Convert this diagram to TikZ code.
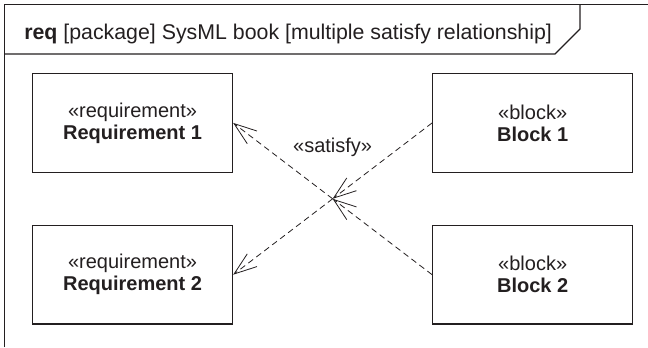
\documentclass[tikz,border=0pt]{standalone}
\usepackage{fontspec}
\setmainfont{Liberation Sans}
\usetikzlibrary{calc,positioning,arrows.meta}
\definecolor{ink}{HTML}{231F20}
\newcommand{\BoxFont}{\fontsize{15}{16.5}\selectfont}
\newcommand{\HeadFont}{\fontsize{16}{18}\selectfont}
\tikzset{
  elembox/.style={draw=ink, line width=0.85pt, fill=white, minimum width=150pt, minimum height=74pt,
                  inner sep=0pt, align=center, font=\BoxFont, text=ink},
  frameline/.style={draw=ink, line width=0.85pt},
  satline/.style={draw=ink, line width=0.6pt, dash pattern=on 4.5pt off 3pt,
                  -{Straight Barb[length=17pt,width=12pt,line width=0.6pt]}},
  lab/.style={font=\BoxFont, text=ink, inner sep=0pt},
}
\begin{document}
\begin{tikzpicture}[x=0.75pt,y=0.75pt]
  \useasboundingbox (0,0) rectangle (648,347);
  % diagram frame and header tab
  \draw[frameline] (4.5,0) -- (4.5,342.7) -- (648,342.7);
  \draw[frameline] (4.5,293) -- (555,293) -- (580,318) -- (580,342.7);
  \node[lab, font=\HeadFont, anchor=base west] (head) at (24,307)
    {\textbf{req} [package] SysML book [multiple satisfy relationship]};
  % requirements and blocks
  \node[elembox, anchor=north west] (req1) at (32,274) {«requirement»\\\textbf{Requirement 1}};
  \node[elembox, below=39pt of req1] (req2) {«requirement»\\\textbf{Requirement 2}};
  \node[elembox, right=149.25pt of req1] (blk1) {«block»\\\textbf{Block 1}};
  \node[elembox, right=149.25pt of req2] (blk2) {«block»\\\textbf{Block 2}};
  % satisfy relationship
  \coordinate (jn) at ($(req1.east)!0.5!(blk2.west)$);
  \draw[satline] (blk1.west) -- (jn);
  \draw[satline] (blk2.west) -- (jn);
  \draw[satline] (jn) -- (req1.east);
  \draw[satline] (jn) -- (req2.east);
  \node[lab] (sat) at ($(jn)+(0,51)$) {«satisfy»};
\end{tikzpicture}
\end{document}
